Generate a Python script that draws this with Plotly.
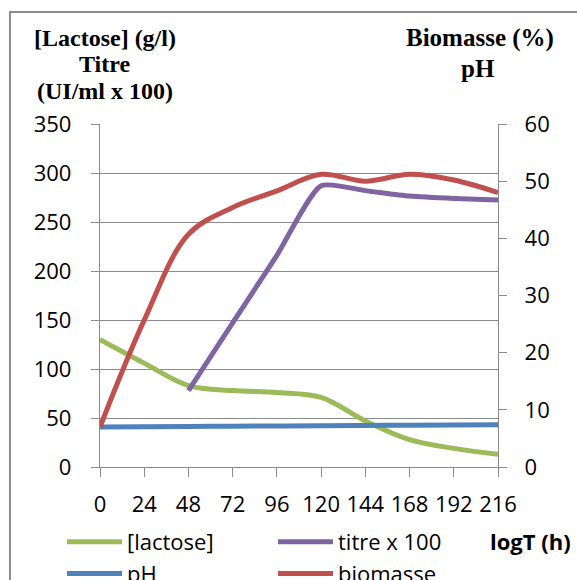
import plotly.graph_objects as go

# ---- data ----
hours = [0, 24, 48, 72, 96, 120, 144, 168, 192, 216]
lactose = [130, 106, 83, 78, 76, 71, 47, 28, 19, 13]
titre_hours = [48, 72, 96, 120, 144, 168, 192, 216]
titre = [78, 147, 216, 287, 282, 276.5, 274, 272.5]
ph = [7.0, 7.05, 7.1, 7.14, 7.18, 7.22, 7.27, 7.32, 7.36, 7.4]
biomasse = [7.0, 25.7, 40.7, 45.4, 48.3, 51.2, 50.0, 51.2, 50.2, 48.0]

x_ticks = [0, 24, 48, 72, 96, 120, 144, 168, 192, 216]
left_ticks = [0, 50, 100, 150, 200, 250, 300, 350]
right_ticks = [0, 10, 20, 30, 40, 50, 60]

GREEN = "#9BBB59"
PURPLE = "#8064A2"
BLUE = "#4F81BD"
RED = "#C0504D"
GRID = "#8A8A8A"
SANS = "Open Sans"
SERIF = "Liberation Serif"

fig = go.Figure()
lw = 5
fig.add_trace(go.Scatter(x=hours, y=lactose, name="[lactose]", mode="lines",
                         line=dict(color=GREEN, width=lw, shape="spline", smoothing=1)))
fig.add_trace(go.Scatter(x=titre_hours, y=titre, name="titre x 100", mode="lines",
                         line=dict(color=PURPLE, width=lw, shape="spline", smoothing=0.6)))
fig.add_trace(go.Scatter(x=hours, y=ph, name="pH", mode="lines", yaxis="y2",
                         line=dict(color=BLUE, width=lw, shape="spline", smoothing=1)))
fig.add_trace(go.Scatter(x=hours, y=biomasse, name="biomasse", mode="lines", yaxis="y2",
                         line=dict(color=RED, width=lw, shape="spline", smoothing=1)))

L, R, T, B = 100, 79, 124, 113
W, H = 577, 580
pw, ph_ = W - L - R, H - T - B

def px(xp):
    return (xp - L) / pw

def py(yp):
    return (H - B - yp) / ph_

fig.update_layout(
    width=W, height=H,
    margin=dict(l=L, r=R, t=T, b=B, autoexpand=False),
    paper_bgcolor="white", plot_bgcolor="white",
    font=dict(family=SANS, size=22, color="#000000"),
    showlegend=True,
    legend=dict(orientation="h", x=px(62), xanchor="left", y=py(521), yanchor="top",
                font=dict(family=SANS, size=22, color="#000000"),
                itemwidth=55, entrywidth=141, entrywidthmode="pixels",
                tracegroupgap=0, bgcolor="rgba(0,0,0,0)"),
    xaxis=dict(range=[0, 216], tickvals=x_ticks, ticktext=[str(v) for v in x_ticks],
               showgrid=False, zeroline=False, showline=True, linecolor=GRID, linewidth=1.3,
               ticks="outside", ticklen=9, tickcolor=GRID, tickwidth=1.3,
               ticklabelstandoff=8,
               tickfont=dict(family=SANS, size=22, color="#000000")),
    yaxis=dict(range=[0, 350], tickvals=left_ticks, showgrid=True, gridcolor=GRID, gridwidth=1.3,
               zeroline=False, showline=True, linecolor=GRID, linewidth=1.3,
               ticks="outside", ticklen=8, tickcolor=GRID, tickwidth=1.3,
               ticklabelstandoff=15,
               tickfont=dict(family=SANS, size=22, color="#000000")),
    yaxis2=dict(range=[0, 60], tickvals=right_ticks, overlaying="y", side="right",
                showgrid=False, zeroline=False, showline=True, linecolor=GRID, linewidth=1.3,
                ticks="outside", ticklen=8, tickcolor=GRID, tickwidth=1.3,
                ticklabelstandoff=13,
                tickfont=dict(family=SANS, size=22, color="#000000")),
)

# chart border
fig.add_shape(type="rect", xref="paper", yref="paper",
              x0=px(10), x1=px(590), y0=py(600), y1=py(12),
              line=dict(color="#8C8C8C", width=2), fillcolor="rgba(0,0,0,0)", layer="below")

# axis titles
def ann(text, x, y, font, size, bold=True):
    fig.add_annotation(text=f"<b>{text}</b>" if bold else text, xref="paper", yref="paper",
                       x=px(x), y=py(y), xanchor="center", yanchor="middle", showarrow=False,
                       font=dict(family=font, size=size, color="#000000"))

ann("[Lactose] (g/l)", 105, 38, SERIF, 24)
ann("Titre", 104, 64, SERIF, 24)
ann("(UI/ml x 100)", 105, 91, SERIF, 24)
ann("Biomasse (%)", 480, 38, SERIF, 25)
ann("pH", 478, 69, SERIF, 25)
fig.add_annotation(text="<b>logT (h)</b>", xref="paper", yref="paper",
                   x=px(573), y=py(541), xanchor="right", yanchor="middle", showarrow=False,
                   font=dict(family=SANS, size=22, color="#000000"))

fig.write_html("out.html")
